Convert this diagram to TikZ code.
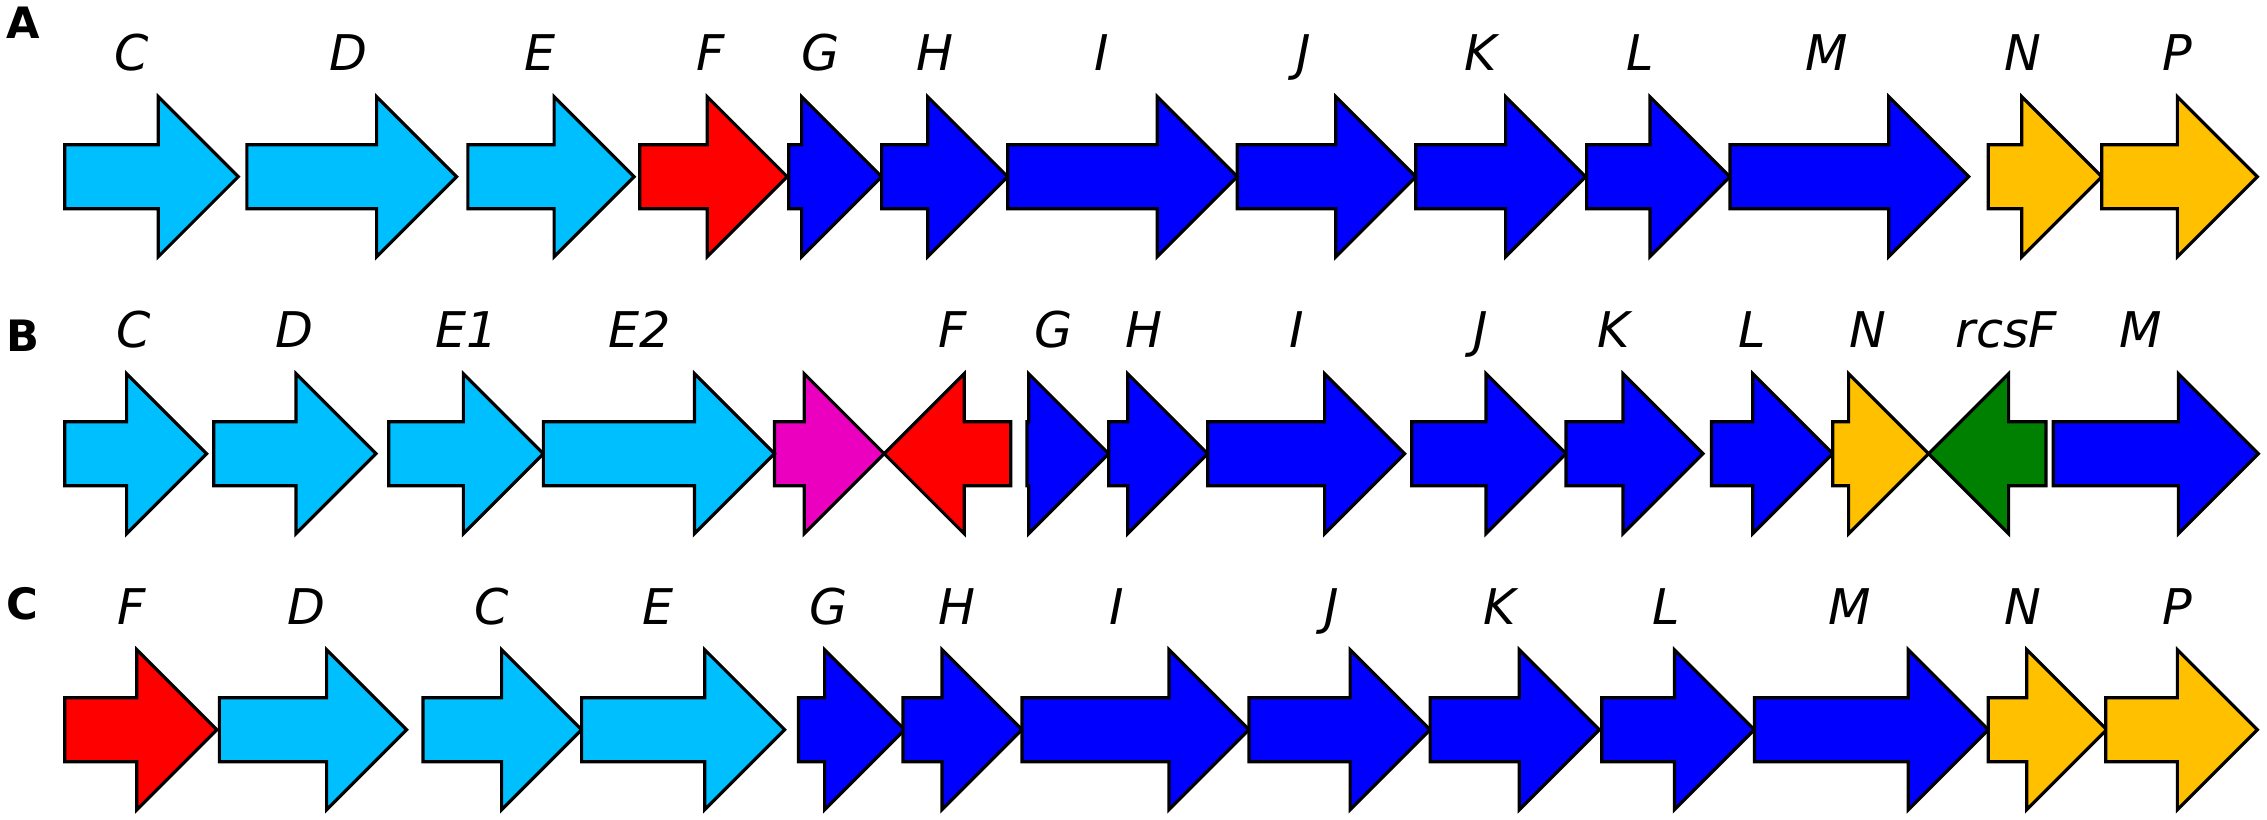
\documentclass[tikz,border=0pt]{standalone}
\usepackage{fontspec}
\setmainfont{DejaVu Sans}
\definecolor{genecyan}{RGB}{0,191,255}
\definecolor{geneblue}{RGB}{0,0,255}
\definecolor{genered}{RGB}{255,0,0}
\definecolor{geneorange}{RGB}{255,192,0}
\definecolor{genemagenta}{RGB}{236,0,192}
\definecolor{genegreen}{RGB}{0,128,0}
% gene arrow: y centre, tail x, tip x, colour
\newcommand{\garrow}[4]{%
  \pgfmathsetmacro\hb{#3-80*sign(#3-#2)}
  \draw[gene,fill=#4] (#2,#1-32) -- (\hb,#1-32) -- (\hb,#1-80) -- (#3,#1)
    -- (\hb,#1+80) -- (\hb,#1+32) -- (#2,#1+32) -- cycle;}
\tikzset{
  gene/.style={draw=black,line width=0.9pt,line join=miter},
  lbl/.style={anchor=base,inner sep=0pt,font=\fontsize{14}{16}\selectfont\itshape},
  panel/.style={anchor=base west,inner sep=0pt,font=\fontsize{12.3}{14}\selectfont\bfseries}
}
\begin{document}
\begin{tikzpicture}[x=0.1mm,y=-0.1mm]
  \useasboundingbox (0,0) rectangle (2267,819);
  % row A
  \node[panel] (pA) at (6,38.3) {A};
  \foreach \nm/\tl/\tp/\lx/\col in {C/64.8/238.3/131.6/genecyan, D/246.9/456.6/348.5/genecyan,
      E/467.9/634.1/539.8/genecyan, F/639.8/787.2/710.7/genered, G/788.8/881.6/820.4/geneblue,
      H/881.6/1007.7/934.7/geneblue, I/1007.7/1237.2/1102/geneblue, J/1237.2/1415.8/1303.6/geneblue,
      K/1415.8/1585.6/1480.6/geneblue, L/1586.6/1729.9/1640.4/geneblue, M/1729.9/1968.7/1826.8/geneblue,
      N/1988.3/2101.8/2022.5/geneorange, P/2101.8/2257.3/2177.6/geneorange}{
    \garrow{176.7}{\tl}{\tp}{\col}
    \node[lbl] (a-\nm) at (\lx,70.7) {\nm};
  }
  % row B
  \node[panel] (pB) at (6,351.7) {B};
  \garrow{453.7}{774.5}{884.2}{genemagenta}
  \foreach \nm/\tl/\tp/\lx/\col in {C/64.8/206.6/133.7/genecyan, D/213.8/376/294.4/genecyan,
      E1/388.8/543.4/466.8/genecyan, E2/543.4/774.5/639.3/genecyan, F/1010.7/884.2/953/genered,
      G/1027/1108.7/1053.6/geneblue, H/1108.7/1207.7/1144.4/geneblue, I/1207.7/1404.6/1296.4/geneblue,
      J/1411.7/1566/1481/geneblue, K/1566/1703/1613.5/geneblue, L/1711.4/1832.7/1752/geneblue,
      N/1832.7/1928.6/1868/geneorange, rcsF/2046/1928.6/2006.4/genegreen, M/2053.3/2258.3/2141/geneblue}{
    \garrow{453.7}{\tl}{\tp}{\col}
    \node[lbl] (b-\nm) at (\lx,347.3) {\nm};
  }
  % row C
  \node[panel] (pC) at (6,619) {C};
  \foreach \nm/\tl/\tp/\lx/\col in {F/64.8/216.8/131.6/genered, D/219.4/406.6/306/genecyan,
      C/423/581.6/491.3/genecyan, E/581.6/784.7/658/genecyan, G/798.5/904.6/829/geneblue,
      H/903/1022/956.6/geneblue, I/1022/1249/1116.3/geneblue, J/1249/1430.1/1331.6/geneblue,
      K/1430.1/1599.3/1500/geneblue, L/1601.8/1754.4/1666.3/geneblue, M/1754.4/1988.3/1849.8/geneblue,
      N/1988.3/2106.7/2022.5/geneorange, P/2105.7/2257.3/2177.6/geneorange}{
    \garrow{729.7}{\tl}{\tp}{\col}
    \node[lbl] (c-\nm) at (\lx,624.3) {\nm};
  }
\end{tikzpicture}
\end{document}
